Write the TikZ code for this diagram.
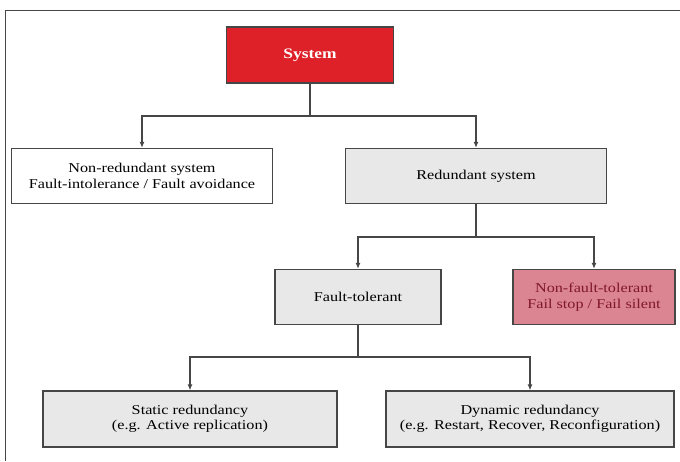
\documentclass[tikz,border=0pt]{standalone}
\usepackage{fontspec}
\setmainfont[FakeStretch=1.2]{Liberation Serif}
\usepackage{tikz}
\usetikzlibrary{arrows.meta,positioning}
\definecolor{sysred}{RGB}{222,32,40}
\definecolor{boxgray}{RGB}{232,232,232}
\definecolor{pinkbox}{RGB}{219,132,146}
\definecolor{darkred}{RGB}{128,24,40}
\definecolor{linegray}{RGB}{70,70,70}

\begin{document}
\begin{tikzpicture}[x=1pt,y=-1pt]
\tikzstyle{block}=[draw=linegray, line width=1.2pt, shape=rectangle, align=center, inner sep=0pt, minimum height=55pt, font=\fontsize{13.5}{15.5}\selectfont]
\tikzstyle{link}=[draw=linegray, line width=1.2pt]
\tikzstyle{arrow}=[link, -{Latex[length=6pt,width=5pt]}]
\useasboundingbox (0,0) rectangle (680,461);
\draw[linegray, line width=0.8pt] (5,461) -- (5,10) -- (680,10);

\node[block, fill=sysred, text=white, font=\fontsize{14.5}{16}\selectfont\bfseries, minimum width=167pt, minimum height=56pt] (0) at (310,55) {System};
\node[block, fill=white, minimum width=261pt] (1) at (142,176) {Non-redundant system\\Fault-intolerance / Fault avoidance};
\node[block, fill=boxgray, minimum width=261pt] (2) at (476,176) {Redundant system};
\node[block, fill=boxgray, minimum width=166pt] (3) at (358,297) {Fault-tolerant};
\node[block, fill=pinkbox, text=darkred, minimum width=162pt] (4) at (594,297) {Non-fault-tolerant\\Fail stop / Fail silent};
\node[block, fill=boxgray, minimum width=294pt, minimum height=56pt] (5) at (190,419) {Static redundancy\\(e.g. Active replication)};
\node[block, fill=boxgray, minimum width=288pt, minimum height=56pt] (6) at (530,419) {Dynamic redundancy\\(e.g. Restart, Recover, Reconfiguration)};

\coordinate (j0) at (310,116);
\coordinate (j2) at (476,237);
\coordinate (j3) at (358,357);

\draw[link] (0) -- (j0);
\draw[arrow] (j0) -| (1);
\draw[arrow] (j0) -| (2);
\draw[link] (2) -- (j2);
\draw[arrow] (j2) -| (3);
\draw[arrow] (j2) -| (4);
\draw[link] (3) -- (j3);
\draw[arrow] (j3) -| (5);
\draw[arrow] (j3) -| (6);
%\draw[link] (4) -- (6);

\end{tikzpicture}
\end{document}
